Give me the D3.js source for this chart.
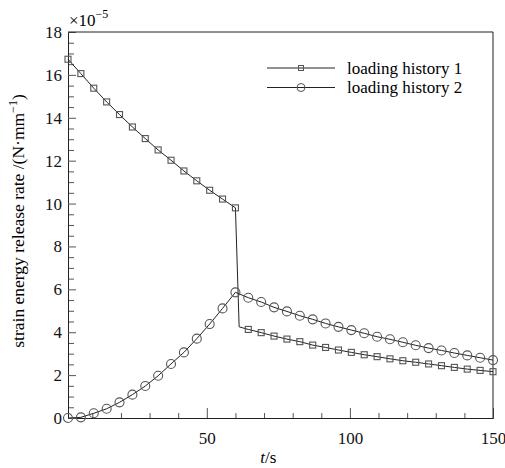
<!DOCTYPE html>
<head>
  <meta charset="utf-8">
  <script src="https://d3js.org/d3.v7.min.js"></script>
  <style>
    body { margin: 0; background: #fff; }
  </style>
</head>
<body>
<script>
  // t values (s) and strain energy release rate (x1e-5 N/mm)
  var tRise = [1.5, 6, 10.5, 15, 19.5, 24, 28.5, 33, 37.5, 42, 46.5, 51, 55.5, 60];
  var tTail = [64.5, 69, 73.5, 78, 82.5, 87, 91.5, 96, 100.5, 105, 109.5, 114, 118.5, 123, 127.5, 132, 136.5, 141, 145.5, 150];

  var hist1Rise = [16.73, 16.06, 15.38, 14.74, 14.15, 13.57, 13.03, 12.50, 12.02, 11.52, 11.06, 10.62, 10.21, 9.80];
  var hist1Drop = [61.3, 4.25]; // end of the fast drop, no marker
  var hist1Tail = [4.13, 3.98, 3.82, 3.68, 3.56, 3.40, 3.29, 3.17, 3.06, 2.95, 2.86, 2.76, 2.67, 2.60, 2.52, 2.44, 2.36, 2.28, 2.22, 2.16];

  var hist2Rise = [0.00, 0.03, 0.22, 0.43, 0.73, 1.09, 1.49, 1.97, 2.52, 3.06, 3.70, 4.38, 5.11, 5.86];
  var hist2Tail = [5.61, 5.41, 5.16, 4.97, 4.77, 4.60, 4.41, 4.25, 4.10, 3.95, 3.79, 3.67, 3.53, 3.39, 3.26, 3.15, 3.03, 2.92, 2.81, 2.70];

  var xMajor = [50, 100, 150];
  var yMajor = [0, 2, 4, 6, 8, 10, 12, 14, 16, 18];
  var legendLabels = ["loading history 1", "loading history 2"];

  var W = 505, H = 468;
  var margin = { top: 32, right: 12, bottom: 50, left: 68 };
  var width = W - margin.left - margin.right;
  var height = H - margin.top - margin.bottom;
  var serif = "'Liberation Serif'";

  var svg = d3.select("body").append("svg")
    .attr("width", W)
    .attr("height", H)
    .style("font-family", serif);
  var g = svg.append("g")
    .attr("transform", "translate(" + margin.left + "," + margin.top + ")");

  var x = d3.scaleLinear().domain([1.5, 150]).range([0, width]);
  var y = d3.scaleLinear().domain([0, 18]).range([height, 0]);

  var ink = "#222", gray = "#555";

  // series
  var s1 = tRise.map(function(t, i) { return { t: t, v: hist1Rise[i], m: true }; })
    .concat([{ t: hist1Drop[0], v: hist1Drop[1], m: false }])
    .concat(tTail.map(function(t, i) { return { t: t, v: hist1Tail[i], m: true }; }));
  var s2 = tRise.map(function(t, i) { return { t: t, v: hist2Rise[i], m: true }; })
    .concat(tTail.map(function(t, i) { return { t: t, v: hist2Tail[i], m: true }; }));

  var line = d3.line().x(function(d) { return x(d.t); }).y(function(d) { return y(d.v); });

  // axes: ticks pointing inward
  var xAxis = d3.axisBottom(x).tickValues(xMajor).tickSizeInner(-10).tickSizeOuter(0).tickPadding(14);
  var xMinor = d3.axisBottom(x).tickValues(d3.range(10, 150, 10).filter(function(v) { return v % 50; }))
    .tickSizeInner(-5).tickSizeOuter(0).tickFormat("");
  var yAxis = d3.axisLeft(y).tickValues(yMajor).tickSizeInner(-8).tickSizeOuter(0).tickPadding(6);
  var yMinor = d3.axisLeft(y).tickValues(d3.range(0.5, 18, 0.5).filter(function(v) { return v % 2; }))
    .tickSizeInner(-6).tickSizeOuter(0).tickFormat("");

  [[xMinor, "x"], [xAxis, "x"], [yMinor, "y"], [yAxis, "y"]].forEach(function(a) {
    var ax = g.append("g").call(a[0]);
    if (a[1] == "x") ax.attr("transform", "translate(0," + height + ")");
    ax.selectAll("line").attr("stroke", gray);
    ax.select(".domain").attr("stroke", ink);
    ax.selectAll("text")
      .style("font-family", serif)
      .style("font-size", "17px")
      .attr("fill", "#111");
  });

  // frame top / right
  g.append("path")
    .attr("d", "M0,0H" + width + "V" + height)
    .attr("fill", "none")
    .attr("stroke", ink)
    .attr("stroke-width", 1);

  g.append("path").datum(s1).attr("d", line)
    .attr("fill", "none").attr("stroke", ink).attr("stroke-width", 1);
  g.append("path").datum(s2).attr("d", line)
    .attr("fill", "none").attr("stroke", ink).attr("stroke-width", 1);

  g.selectAll(".sq").data(s1.filter(function(d) { return d.m; }))
    .enter().append("rect")
    .attr("class", "sq")
    .attr("x", function(d) { return x(d.t) - 3; })
    .attr("y", function(d) { return y(d.v) - 3; })
    .attr("width", 6).attr("height", 6)
    .attr("fill", "none").attr("stroke", gray).attr("stroke-width", 1.1);

  g.selectAll(".ci").data(s2.filter(function(d) { return d.m; }))
    .enter().append("circle")
    .attr("class", "ci")
    .attr("cx", function(d) { return x(d.t); })
    .attr("cy", function(d) { return y(d.v); })
    .attr("r", 4.5)
    .attr("fill", "none").attr("stroke", gray).attr("stroke-width", 1.1);

  // exponent
  var ex = svg.append("text")
    .attr("x", margin.left + 1)
    .attr("y", 26)
    .style("font-family", serif)
    .style("font-size", "17px");
  ex.append("tspan").text("×10");
  ex.append("tspan").attr("dy", -8).style("font-size", "12px").text("−5");

  // axis titles
  var xl = svg.append("text")
    .attr("x", margin.left + x(75) - 10)
    .attr("y", 463)
    .attr("text-anchor", "middle")
    .style("font-family", serif)
    .style("font-size", "17px");
  xl.append("tspan").style("font-style", "italic").text("t");
  xl.append("tspan").text("/s");

  var yl = svg.append("text")
    .attr("transform", "translate(24," + (margin.top + height / 2 - 4) + ") rotate(-90)")
    .attr("text-anchor", "middle")
    .style("font-family", serif)
    .style("font-size", "17.5px");
  yl.append("tspan").text("strain energy release rate /(N·mm");
  yl.append("tspan").attr("dy", -7).style("font-size", "12px").text("−1");
  yl.append("tspan").attr("dy", 7).text(")");

  // legend
  var lg = svg.append("g").attr("transform", "translate(267,68)");
  legendLabels.forEach(function(lab, i) {
    var row = lg.append("g").attr("transform", "translate(0," + (i * 19.5) + ")");
    row.append("line").attr("x1", 0).attr("x2", 68).attr("stroke", ink).attr("stroke-width", 1);
    if (i == 0) {
      row.append("rect").attr("x", 31.5).attr("y", -2.5).attr("width", 5).attr("height", 5)
        .attr("fill", "none").attr("stroke", gray);
    } else {
      row.append("circle").attr("cx", 34).attr("r", 4).attr("fill", "none").attr("stroke", gray);
    }
    row.append("text").attr("x", 80).attr("y", 5.5)
      .style("font-family", serif)
      .style("font-size", "17px").text(lab);
  });
</script>
</body>
